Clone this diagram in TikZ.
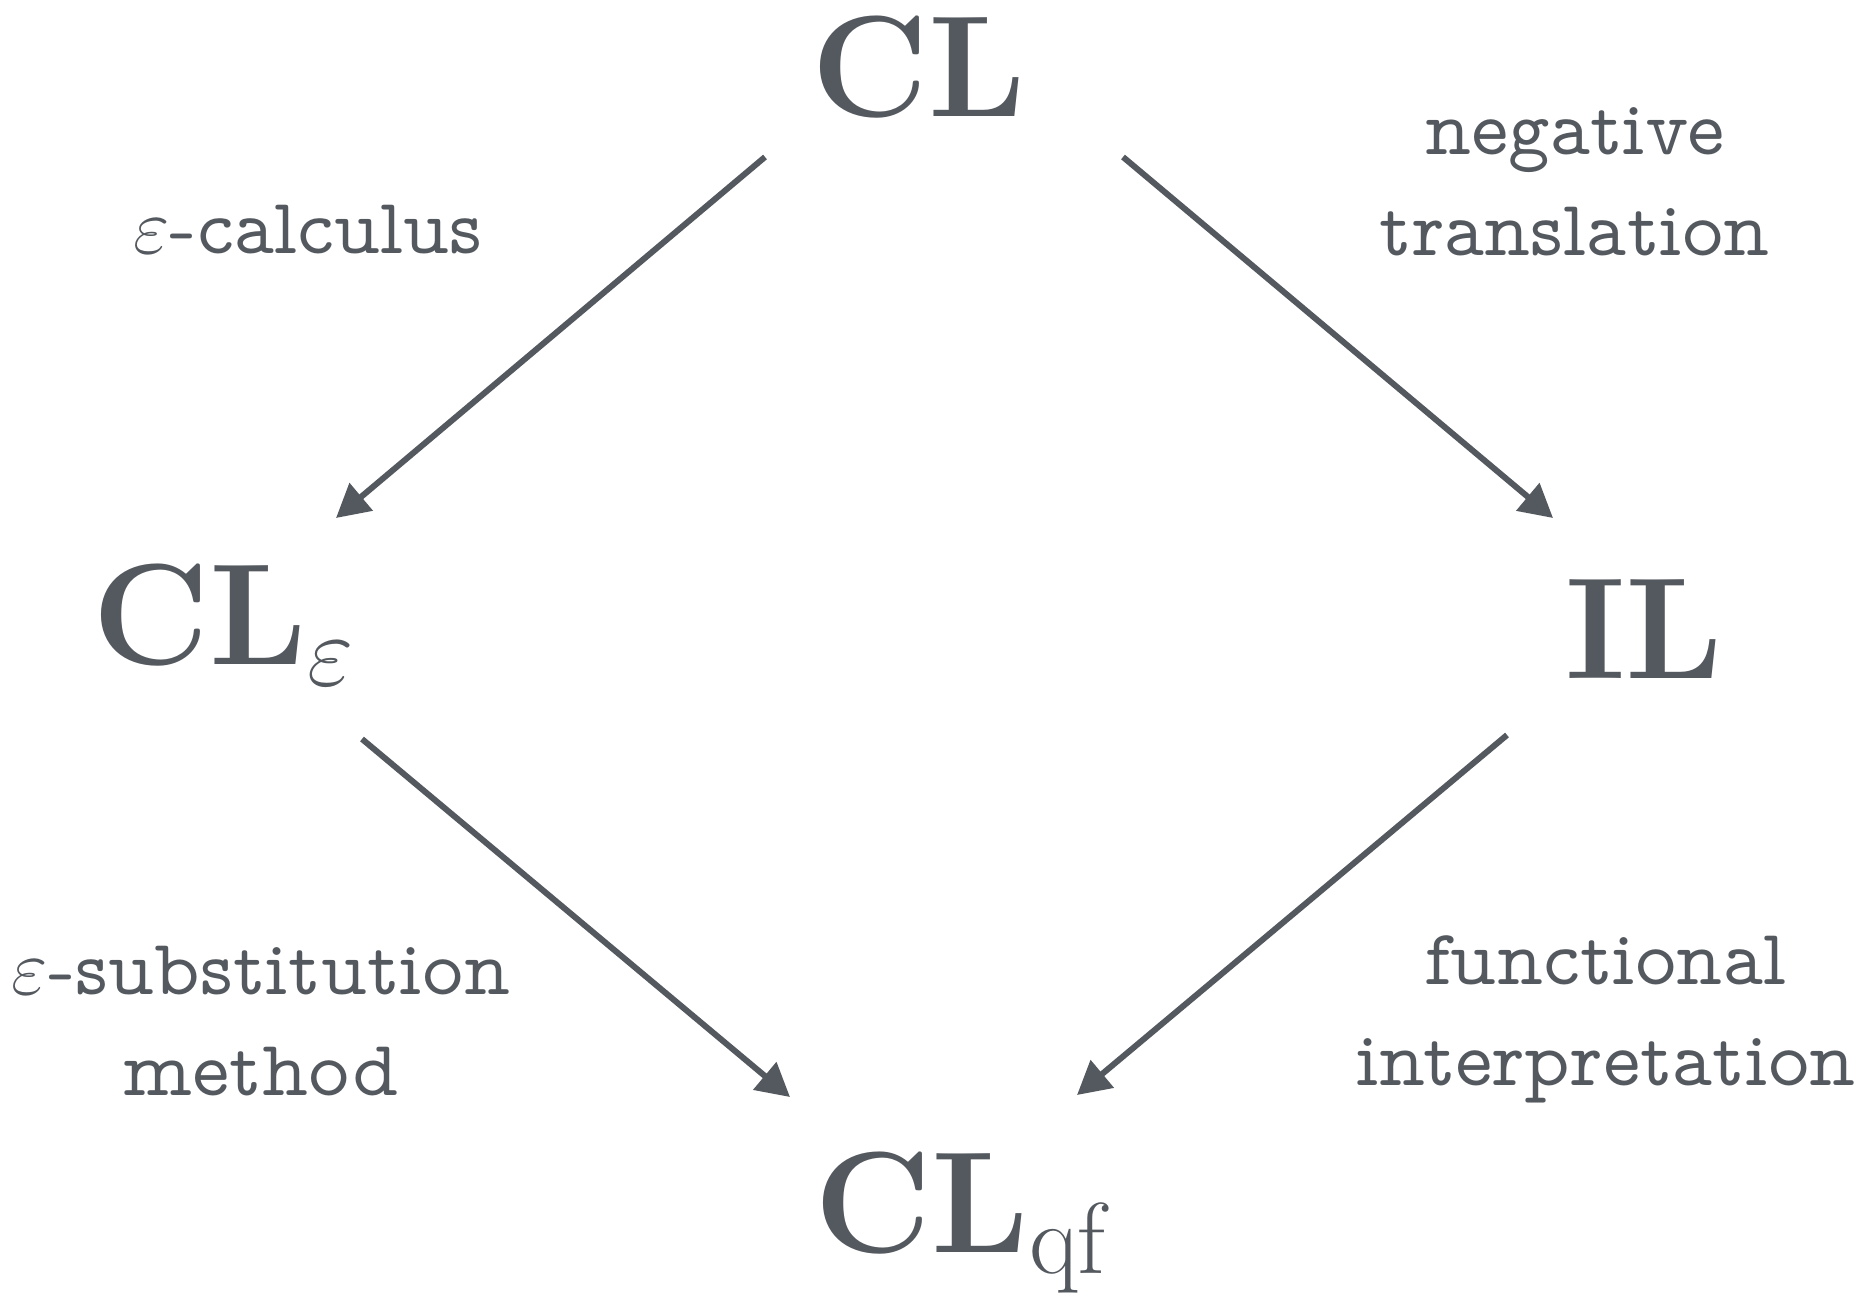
\RequirePackage{fix-cm}
\documentclass[tikz,border=0pt]{standalone}
\usepackage{tikz}
\usetikzlibrary{arrows.meta, calc}
\usepackage{xcolor}
\definecolor{slate}{HTML}{54595F}

\begin{document}
\begin{tikzpicture}[
  >={Triangle[length=3.3mm, width=3.5mm]},
  every node/.style={align=center, text=slate, inner sep=0pt},
  logic/.style={font=\fontsize{41}{48}\selectfont\bfseries, anchor=base},
  method/.style={font=\fontfamily{lmvtt}\fontsize{22.5}{28.5}\selectfont, anchor=base},
  arrow/.style={->, draw=slate, line width=1.7pt},
]
\useasboundingbox (0,0) rectangle (18.66,-13.02);

% ── Logics (placed on their baselines) ─────────────────────────────
\node[logic] (cl)   at (9.19,-1.17)  {CL};
\node[logic] (cle)  at (2.24,-6.64)  {CL$_{\varepsilon}$};
\node[logic] (il)   at (16.44,-6.78) {IL};
\node[logic] (clqf) at (9.64,-12.52) {CL$_{\mathrm{qf}}$};

% ── Methods (base = last line) ─────────────────────────────────────
\node[method] (calc)  at (3.08,-2.53)  {$\varepsilon$-calculus};
\node[method] (negtr) at (15.75,-2.55) {negative\\translation};
\node[method] (subst) at (2.61,-10.95) {$\varepsilon$-substitution\\method};
\node[method] (funct) at (16.06,-10.85) {functional\\interpretation};

% ── Arrows (offsets from the baselines) ────────────────────────────
\draw[arrow] ($(cl.base)+(-1.54,-0.40)$)  -- ($(cle.base)+(1.12,1.46)$);
\draw[arrow] ($(cl.base)+(2.04,-0.40)$)   -- ($(il.base)+(-0.91,1.60)$);
\draw[arrow] ($(cle.base)+(1.38,-0.75)$)  -- ($(clqf.base)+(-1.74,1.55)$);
\draw[arrow] ($(il.base)+(-1.37,-0.57)$)  -- ($(clqf.base)+(1.13,1.57)$);

\end{tikzpicture}
\end{document}
